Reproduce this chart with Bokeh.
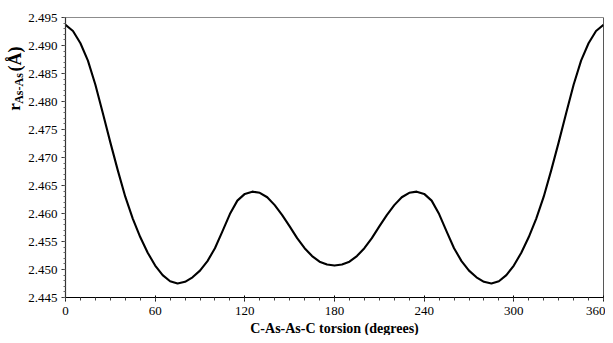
import math
from bokeh.plotting import figure
from bokeh.layouts import row, column
from bokeh.models import FixedTicker, PrintfTickFormatter, Label, Range1d, Span
from bokeh.embed import file_html
from bokeh.resources import INLINE

torsion = [0, 5, 10, 15, 20, 25, 30, 35, 40, 45, 50, 55, 60, 65, 70, 75, 80, 85, 90,
           95, 100, 105, 110, 115, 120, 125, 130, 135, 140, 145, 150, 155, 160, 165,
           170, 175, 180, 185, 190, 195, 200, 205, 210, 215, 220, 225, 230, 235, 240,
           245, 250, 255, 260, 265, 270, 275, 280, 285, 290, 295, 300, 305, 310, 315,
           320, 325, 330, 335, 340, 345, 350, 355, 360]
r_as_as = [2.4937, 2.4926, 2.4904, 2.4873, 2.4830, 2.4779, 2.4727, 2.4677, 2.4630,
           2.4591, 2.4558, 2.4530, 2.4507, 2.4490, 2.4479, 2.4475, 2.4478, 2.4486,
           2.4498, 2.4515, 2.4538, 2.4568, 2.4599, 2.4623, 2.4635, 2.4639, 2.4637,
           2.4629, 2.4615, 2.4597, 2.4577, 2.4556, 2.4538, 2.4524, 2.4514, 2.4509,
           2.4507, 2.4509, 2.4514, 2.4524, 2.4538, 2.4556, 2.4577, 2.4597, 2.4615,
           2.4629, 2.4637, 2.4639, 2.4635, 2.4623, 2.4599, 2.4568, 2.4538, 2.4515,
           2.4498, 2.4486, 2.4478, 2.4475, 2.4479, 2.4490, 2.4507, 2.4530, 2.4558,
           2.4591, 2.4630, 2.4677, 2.4727, 2.4779, 2.4830, 2.4873, 2.4904, 2.4926,
           2.4937]

x_major = [0, 60, 120, 180, 240, 300, 360]
x_minor = list(range(0, 361, 10))
y_major = [2.445, 2.450, 2.455, 2.460, 2.465, 2.470, 2.475, 2.480, 2.485, 2.490, 2.495]
y_minor = [round(2.445 + 0.001 * i, 3) for i in range(51)]

x_title = "C-As-As-C torsion (degrees)"
y_title_main = "r"
y_title_sub = "As-As"
y_title_unit = "(Å)"

SERIF = "'Liberation Serif', 'Times New Roman', serif"

W_LAB = 25          # narrow strip that holds the rotated y title
H_XLAB = 14         # strip under the chart that holds the x title
W_TOTAL = 605
H_TOTAL = 335
HY = H_TOTAL - H_XLAB


def blank(w, h):
    f = figure(width=w, height=h, output_backend="svg", toolbar_location=None,
               x_range=Range1d(0, w), y_range=Range1d(0, h),
               x_axis_type=None, y_axis_type=None,
               min_border=0, min_border_left=0, min_border_right=0,
               min_border_top=0, min_border_bottom=0)
    f.outline_line_color = None
    f.grid.visible = False
    f.background_fill_color = "white"
    f.border_fill_color = "white"
    return f


p = figure(width=W_TOTAL - W_LAB, height=HY, output_backend="svg",
           toolbar_location=None,
           x_range=Range1d(0, 360), y_range=Range1d(2.445, 2.495),
           min_border_left=40, min_border_right=2, min_border_top=17, min_border_bottom=24)
p.background_fill_color = "white"
p.border_fill_color = "white"
p.grid.visible = False
p.outline_line_color = "#8c8c8c"
p.outline_line_width = 1

p.line(torsion, r_as_as, line_color="black", line_width=2.1, line_join="round")
p.add_layout(Span(location=360, dimension="height", line_color="#222222", line_width=1))

xa = p.xaxis[0]
xa.ticker = FixedTicker(ticks=x_major, minor_ticks=x_minor)
xa.axis_line_color = "black"
xa.axis_line_width = 1.2
xa.major_tick_line_color = "black"
xa.minor_tick_line_color = "#444444"
xa.major_tick_in = 2
xa.major_tick_out = 4
xa.minor_tick_in = 0
xa.minor_tick_out = 3
xa.major_label_standoff = 5
xa.major_label_text_font = SERIF
xa.major_label_text_font_size = "13px"
xa.major_label_text_color = "black"

ya = p.yaxis[0]
ya.ticker = FixedTicker(ticks=y_major, minor_ticks=y_minor)
ya.formatter = PrintfTickFormatter(format="%.3f")
ya.axis_line_color = "#333333"
ya.axis_line_width = 1.2
ya.major_tick_line_color = "#333333"
ya.minor_tick_line_color = "#666666"
ya.major_tick_in = 0
ya.major_tick_out = 4
ya.minor_tick_in = 0
ya.minor_tick_out = 2
ya.major_label_standoff = 4
ya.major_label_text_font = SERIF
ya.major_label_text_font_size = "13px"
ya.major_label_text_color = "black"

# rotated y title in its own strip (data units = pixels, y up from bottom)
ylab = blank(W_LAB, HY)
ylab.add_layout(Label(x=14, y=HY - 107, text=y_title_main, angle=math.pi / 2,
                      text_font=SERIF, text_font_style="bold", text_font_size="17px",
                      text_align="left", text_baseline="middle", text_color="black"))
ylab.add_layout(Label(x=18, y=HY - 99, text=y_title_sub, angle=math.pi / 2,
                      text_font=SERIF, text_font_style="bold", text_font_size="12px",
                      text_align="left", text_baseline="middle", text_color="black"))
ylab.add_layout(Label(x=14, y=HY - 62, text=y_title_unit, angle=math.pi / 2,
                      text_font=SERIF, text_font_style="bold", text_font_size="18px",
                      text_align="left", text_baseline="middle", text_color="black"))

# x title strip
xlab = blank(W_TOTAL, H_XLAB)
xlab.add_layout(Label(x=334, y=7.5, text=x_title, text_font=SERIF, text_font_style="bold",
                      text_font_size="14px", text_align="center",
                      text_baseline="middle", text_color="black"))

layout = column(row(ylab, p, spacing=0), xlab, spacing=0)

open("out.html", "w").write(file_html(layout, INLINE))
